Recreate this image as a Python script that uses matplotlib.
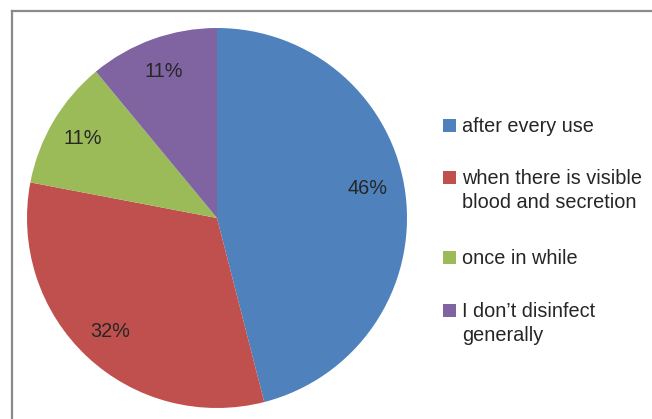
import matplotlib
matplotlib.use("Agg")
import matplotlib.pyplot as plt
from matplotlib.patches import Rectangle
from matplotlib.lines import Line2D

plt.rcParams['font.family'] = ['Liberation Sans', 'DejaVu Sans']

labels = ["after every use",
          "when there is visible\nblood and secretion",
          "once in while",
          "I don\u2019t disinfect\ngenerally"]
shares = [46, 32, 11, 11]
colors = ["#4F81BD", "#C0504D", "#9BBB59", "#8064A2"]

W, H = 652, 419
FS = 14.3
TXT = "#262626"
fig = plt.figure(figsize=(W / 100, H / 100), dpi=100)

# outer chart frame (only top and left edges are visible)
fig.add_artist(Line2D([12 / W, 1], [1 - 11.5 / H, 1 - 11.5 / H], color="#8a8a8a", lw=1.6))
fig.add_artist(Line2D([12 / W, 12 / W], [0, 1 - 11.5 / H], color="#8a8a8a", lw=1.6))

# pie centred at (217, 218) px with radius 190 px
cx, cy, r = 217, 218, 190
ax = fig.add_axes([(cx - r) / W, (H - cy - r) / H, 2 * r / W, 2 * r / H])
wedges, texts, autotexts = ax.pie(
    shares, colors=colors, startangle=90, counterclock=False,
    autopct=lambda p: "%d%%" % round(p), pctdistance=0.82,
    wedgeprops=dict(linewidth=0),
    textprops=dict(fontsize=FS, color=TXT))
# the big slice's label sits a bit higher and further in
x0, y0 = autotexts[0].get_position()
autotexts[0].set_position((x0 - 0.02, y0 + 0.055))
ax.set_xlim(-1, 1)
ax.set_ylim(-1, 1)
ax.set_aspect("equal")
ax.axis("off")

# legend on the right, square bottom on first text baseline
base = 131.7
for lab, col in zip(labels, colors):
    fig.add_artist(Rectangle((443 / W, 1 - base / H), 13 / W, 13 / H,
                             transform=fig.transFigure, facecolor=col,
                             edgecolor="none"))
    lines = lab.split("\n")
    for i, line in enumerate(lines):
        fig.text(462 / W, 1 - (base + 24 * i) / H, line, fontsize=FS,
                 color=TXT, va="baseline", ha="left")
    base += 52.5 + 27.5 * (len(lines) - 1)

fig.savefig("out.png", dpi=100)
